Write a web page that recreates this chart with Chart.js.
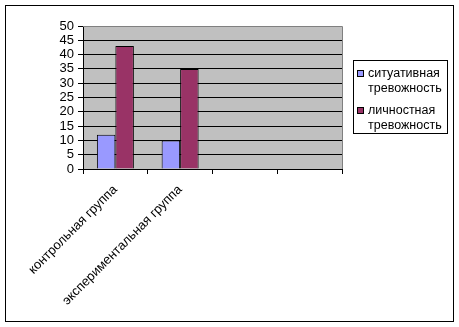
<!DOCTYPE html>
<html>
<head>
<meta charset="utf-8">
<script src="https://cdn.jsdelivr.net/npm/chart.js@4"></script>
<style>
  html, body { margin: 0; padding: 0; background: #fff; }
  #wrap { width: 459px; height: 327px; position: relative; }
</style>
</head>
<body>
<div id="wrap"><canvas id="c" width="459" height="327"></canvas></div>
<script>
// Groups along the x axis (the last two slots are left blank)
const categories = ['контрольная группа', 'экспериментальная группа', '', ''];
// Anxiety scores per group
const situational = [12, 10, null, null];
const personal = [43, 35, null, null];
const seriesNames = ['ситуативная тревожность', 'личностная тревожность'];
const seriesColors = ['#9999FF', '#993366'];
const yTicks = { min: 0, max: 50, step: 5 };

const FONT = 'Liberation Sans, Arial, sans-serif';

// Gray plot background, outer frame and boxed legend
const frame = {
  id: 'frame',
  beforeDraw(chart) {
    const { ctx, chartArea: a } = chart;
    ctx.save();
    ctx.fillStyle = '#C0C0C0';
    ctx.fillRect(a.left, a.top, a.right - a.left, a.bottom - a.top);
    ctx.restore();
  },
  afterDraw(chart) {
    const { ctx, chartArea: a } = chart;
    ctx.save();
    // plot area edge
    ctx.strokeStyle = '#808080';
    ctx.lineWidth = 1;
    ctx.beginPath();
    ctx.moveTo(a.left, a.top + 0.5);
    ctx.lineTo(a.right + 0.5, a.top + 0.5);
    ctx.lineTo(a.right + 0.5, a.bottom);
    ctx.stroke();
    // outer frame
    ctx.strokeStyle = '#000';
    ctx.strokeRect(5.5, 5.5, 448, 316);
    // legend box
    const lx = 353, ly = 60, lw = 94, lh = 73;
    ctx.strokeRect(lx + 0.5, ly + 0.5, lw, lh);
    ctx.font = '12.5px ' + FONT;
    ctx.textBaseline = 'middle';
    ctx.textAlign = 'left';
    chart.data.datasets.forEach((ds, i) => {
      const y0 = ly + 13 + i * 37;
      ctx.fillStyle = ds.backgroundColor;
      ctx.fillRect(357.5, y0 - 2.5, 6, 6);
      ctx.strokeStyle = '#000';
      ctx.strokeRect(357.5, y0 - 2.5, 6, 6);
      ctx.fillStyle = '#000';
      ds.label.split(' ').forEach((line, k) => {
        ctx.fillText(line, 368, y0 + 1 + k * 15);
      });
    });
    ctx.restore();
  }
};

new Chart(document.getElementById('c'), {
  type: 'bar',
  data: {
    labels: categories,
    datasets: [
      { label: seriesNames[0], data: situational, backgroundColor: seriesColors[0], borderColor: '#000', borderWidth: 1 },
      { label: seriesNames[1], data: personal, backgroundColor: seriesColors[1], borderColor: '#000', borderWidth: 1 }
    ]
  },
  options: {
    responsive: false,
    animation: false,
    devicePixelRatio: 1,
    datasets: { bar: { categoryPercentage: 2 / 3.5, barPercentage: 1 } },
    layout: { padding: { top: 26, right: 117, left: 0, bottom: 0 } },
    plugins: { legend: { display: false }, tooltip: { enabled: false } },
    scales: {
      x: {
        grid: { offset: true, drawOnChartArea: false, color: '#000', tickLength: 5 },
        border: { color: '#000' },
        ticks: { color: '#000', font: { family: FONT, size: 13 }, maxRotation: 45, minRotation: 45, autoSkip: false, padding: 8 },
        afterFit(s) { s.height = 327 - 169; }
      },
      y: {
        min: yTicks.min, max: yTicks.max,
        grid: { color: '#000', tickLength: 5 },
        border: { color: '#000' },
        ticks: { stepSize: yTicks.step, autoSkip: false, color: '#000', font: { family: FONT, size: 13 }, padding: 4 },
        afterFit(s) { s.width = 83; }
      }
    }
  },
  plugins: [frame]
});
</script>
</body>
</html>
